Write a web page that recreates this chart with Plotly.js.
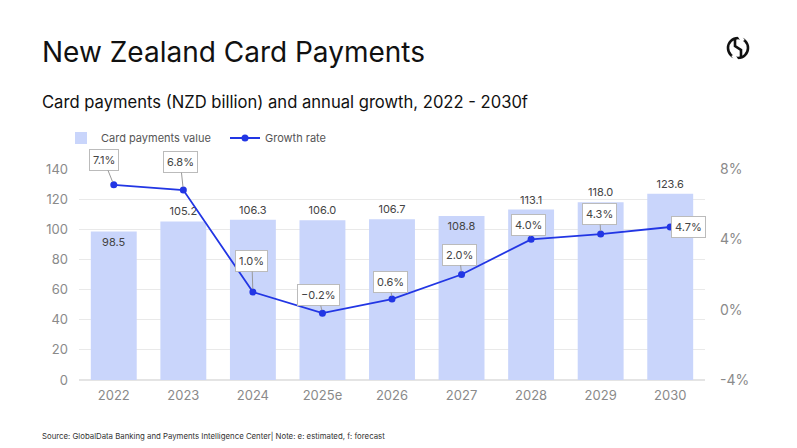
<!DOCTYPE html>
<html>
<head>
<meta charset="utf-8">
<script src="https://cdn.plot.ly/plotly-3.0.1.min.js"></script>
<style>
html,body{margin:0;padding:0;background:#fff;}
#chart{width:797px;height:448px;}
</style>
</head>
<body>
<div id="chart"></div>
<script>
const years = ["2022","2023","2024","2025e","2026","2027","2028","2029","2030"];
const cardValues = [98.5,105.2,106.3,106.0,106.7,108.8,113.1,118.0,123.6];
const growthRates = [7.1,6.8,1.0,-0.2,0.6,2.0,4.0,4.3,4.7];
const valueLabelPos = ["inside","outside","outside","outside","outside","inside","outside","outside","outside"];
const growthLabelOffsetX = [-10,-3,-1,-4,-2,-2,-3,-1,18];
const growthLabelOffsetY = [-25,-28,-31,-18,-17,-20,-14,-20,0];
const leftTicks = [0,20,40,60,80,100,120,140];
const rightTicks = [-4,0,4,8];
const rightTickText = ["-4%","0%","4%","8%"];

const FONT = "Inter, 'Open Sans', sans-serif";

const bars = {
  type: "bar",
  name: "Card payments value",
  x: years,
  y: cardValues,
  marker: {color: "#c9d5fb"},
  text: cardValues.map(v => v.toFixed(1)),
  textposition: valueLabelPos,
  insidetextanchor: "end",
  textfont: {family: FONT, size: 11, color: "#444"},
  cliponaxis: false,
  hoverinfo: "skip"
};

const line = {
  type: "scatter",
  mode: "lines+markers",
  name: "Growth rate",
  x: years,
  y: growthRates,
  yaxis: "y2",
  line: {color: "#2236e4", width: 1.8},
  marker: {color: "#2236e4", size: 7},
  hoverinfo: "skip"
};

const annotations = growthRates.map((g, i) => ({
  x: i, y: g, xref: "x", yref: "y2",
  text: (g < 0 ? "\u2212" + Math.abs(g).toFixed(1) : g.toFixed(1)) + "%",
  showarrow: true, arrowhead: 0, arrowwidth: 1, arrowcolor: "#999",
  ax: growthLabelOffsetX[i], ay: growthLabelOffsetY[i],
  standoff: 3,
  bgcolor: "#fff", bordercolor: "#bbb", borderwidth: 1, borderpad: 3,
  font: {family: FONT, size: 11, color: "#444"}
}));

annotations.push({
  xref: "paper", yref: "paper", x: -39/626, y: (380-52)/211,
  xanchor: "left", yanchor: "middle", showarrow: false,
  text: "New Zealand Card Payments",
  font: {family: FONT, size: 28, color: "#111"}
});
annotations.push({
  xref: "paper", yref: "paper", x: -39/626, y: (380-102)/211,
  xanchor: "left", yanchor: "middle", showarrow: false,
  text: "Card payments (NZD billion) and annual growth, 2022 - 2030f",
  font: {family: FONT, size: 16.6, color: "#111"}
});
annotations.push({
  xref: "paper", yref: "paper", x: -39/626, y: (380-436)/211,
  xanchor: "left", yanchor: "middle", showarrow: false,
  text: "Source: GlobalData Banking and Payments Intelligence Center| Note: e: estimated, f: forecast",
  font: {family: FONT, size: 7.8, color: "#333"}
});

const lcx = (738-79)/626, lcy = (380-48)/211;
const shapes = [
  {type:"circle", xref:"paper", yref:"paper", xsizemode:"pixel", ysizemode:"pixel",
   xanchor:lcx, yanchor:lcy, x0:-10, x1:10, y0:-10, y1:10, line:{color:"#111", width:2.6}},
  {type:"line", xref:"paper", yref:"paper", xsizemode:"pixel", ysizemode:"pixel",
   xanchor:lcx, yanchor:lcy, x0:1, y0:13, x1:5, y1:7, line:{color:"#fff", width:4}},
  {type:"line", xref:"paper", yref:"paper", xsizemode:"pixel", ysizemode:"pixel",
   xanchor:lcx, yanchor:lcy, x0:-1, y0:-13, x1:-5, y1:-7, line:{color:"#fff", width:4}},
  {type:"path", xref:"paper", yref:"paper", xsizemode:"pixel", ysizemode:"pixel",
   xanchor:lcx, yanchor:lcy, path:"M -3 9 L -3 2 L 3 -2 L 3 -9", line:{color:"#111", width:2.6}}
];

const layout = {
  width: 797, height: 448,
  margin: {l: 79, r: 92, t: 169, b: 68},
  paper_bgcolor: "#fff", plot_bgcolor: "#fff",
  font: {family: FONT, color: "#888"},
  bargap: 0.34,
  showlegend: true,
  legend: {orientation: "h", x: -18/626, xanchor: "left", y: (380-138)/211, yanchor: "middle",
           font: {family: FONT, size: 11, color: "#555"}, entrywidth: 119, entrywidthmode: "pixels",
           traceorder: "normal"},
  xaxis: {type: "category", range: [-0.5, 8.5], showgrid: false, zeroline: false, showline: false,
          ticks: "", tickfont: {family: FONT, size: 13, color: "#8a8a8a"}, ticklabelstandoff: 6},
  yaxis: {range: [0, 140], tickvals: leftTicks, showgrid: true, gridcolor: "#e9e9e9", gridwidth: 1,
          zeroline: true, zerolinecolor: "#e4e4e4", zerolinewidth: 1.5, showline: false, ticks: "",
          tickfont: {family: FONT, size: 13, color: "#8a8a8a"}, ticklabelstandoff: 10},
  yaxis2: {overlaying: "y", side: "right", range: [-4, 8], tickvals: rightTicks, ticktext: rightTickText,
           showgrid: false, zeroline: false, showline: false, ticks: "",
           tickfont: {family: FONT, size: 14, color: "#8a8a8a"}, ticklabelstandoff: 14},
  annotations: annotations,
  shapes: shapes
};

Plotly.newPlot("chart", [bars, line], layout, {displayModeBar: false, staticPlot: true});
</script>
</body>
</html>
